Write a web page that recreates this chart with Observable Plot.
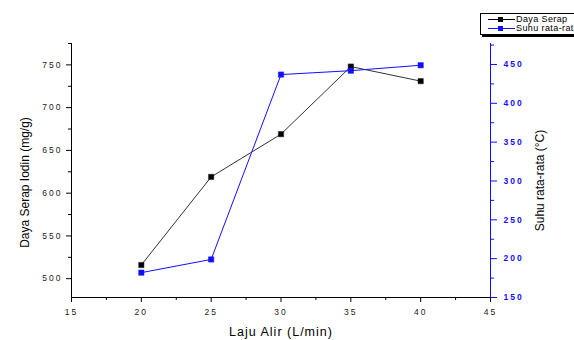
<!DOCTYPE html>
<html>
<head>
<meta charset="utf-8">
<script src="https://cdn.jsdelivr.net/npm/d3@7"></script>
<script src="https://cdn.jsdelivr.net/npm/@observablehq/plot@0.6"></script>
<style>
  html, body { margin: 0; padding: 0; background: #fff; overflow: hidden; width: 574px; height: 340px; }
  #wrap { position: relative; width: 574px; height: 340px; overflow: hidden; }
  g[aria-label$="tick label"] text { letter-spacing: 2px; }
  #legend {
    position: absolute; left: 480px; top: 13px; width: 110px; height: 20px;
    border: 1px solid #000; background: #fff; box-shadow: 2px 2px 0 #000;
    font-family: "Liberation Sans", Arial, sans-serif; font-size: 9px; line-height: 9px;
  }
  .row { position: absolute; left: 0; height: 9px; width: 110px; white-space: nowrap; }
  .ln { position: absolute; left: 7px; width: 27px; top: 4px; height: 1px; }
  .mk { position: absolute; left: 17px; top: 2px; width: 5px; height: 5px; }
  .tx { position: absolute; left: 35px; top: 0px; letter-spacing: 0.4px; }
</style>
</head>
<body>
<div id="wrap"></div>
<script>
// ---- data ----
const flowRate = [20, 25, 30, 35, 40];            // Laju Alir (L/min)
const iodine = [516, 619, 669, 748, 731];          // Daya Serap Iodin (mg/g)
const temperature = [182, 199, 437, 442, 449];     // Suhu rata-rata (°C)
const xTicks = [15, 20, 25, 30, 35, 40, 45];
const xMinor = [17.5, 22.5, 27.5, 32.5, 37.5, 42.5];
const leftTicks = [500, 550, 600, 650, 700, 750];
const leftMinor = [525, 575, 625, 675, 725, 775];
const rightTicks = [150, 200, 250, 300, 350, 400, 450];
const rightMinor = [175, 225, 275, 325, 375, 425, 475];
const legendLabels = ["Daya Serap", "Suhu rata-rata"];

const L0 = 478, L1 = 775, R0 = 150, R1 = 477;
const toLeft = v => L0 + (v - R0) * (L1 - L0) / (R1 - R0);
const fromLeft = v => R0 + (v - L0) * (R1 - R0) / (L1 - L0);

const black = flowRate.map((x, i) => ({x, y: iodine[i]}));
const blue = flowRate.map((x, i) => ({x, y: toLeft(temperature[i])}));

const BLUE = "#1010ff";

const chart = Plot.plot({
  width: 574, height: 340,
  marginLeft: 71, marginRight: 84, marginTop: 43, marginBottom: 43,
  x: {domain: [15, 45]},
  y: {domain: [L0, L1]},
  style: {fontFamily: "'Liberation Sans', Arial, sans-serif", fontSize: "8.5px", background: "white", overflow: "visible"},
  marks: [
    // axis lines
    Plot.ruleX([15], {stroke: "black", strokeWidth: 1}),
    Plot.ruleY([L0], {stroke: "black", strokeWidth: 1}),
    Plot.ruleX([45], {stroke: BLUE, strokeWidth: 1}),
    // left axis
    Plot.axisY({ticks: leftTicks, tickSize: 5, tickPadding: 4, label: null, fontSize: 8.5, fill: "#222"}),
    Plot.axisY({ticks: leftMinor, tickSize: 3, tickFormat: () => "", label: null}),
    // x axis
    Plot.axisX({ticks: xTicks, tickSize: 5, tickPadding: 6, label: null, fontSize: 8.5, fill: "#222"}),
    Plot.axisX({ticks: xMinor, tickSize: 3, tickFormat: () => "", label: null}),
    // right axis
    Plot.axisY({anchor: "right", ticks: rightTicks.map(toLeft), tickFormat: d => Math.round(fromLeft(d)),
      tickSize: 6, tickPadding: 7, label: null, color: BLUE, fontSize: 8.5, fontWeight: "bold"}),
    Plot.axisY({anchor: "right", ticks: rightMinor.map(toLeft), tickSize: 3, tickFormat: () => "", label: null, color: BLUE}),
    // axis titles
    Plot.text(["Daya Serap Iodin (mg/g)"], {frameAnchor: "left", textAnchor: "middle", lineAnchor: "middle", dx: -46, dy: 12, rotate: -90, fontSize: 12, fill: "black"}),
    Plot.text(["Suhu rata-rata (°C)"], {frameAnchor: "right", textAnchor: "middle", lineAnchor: "middle", dx: 50, dy: 10, rotate: -90, fontSize: 12, fill: "black"}),
    Plot.text(["Laju Alir (L/min)"], {frameAnchor: "bottom", textAnchor: "middle", lineAnchor: "middle", dx: 0, dy: 34, fontSize: 12.5, fill: "black"}),
    // series
    Plot.line(black, {x: "x", y: "y", stroke: "#333", strokeWidth: 1}),
    Plot.dot(black, {x: "x", y: "y", symbol: "square", r: 3, fill: "black", stroke: "#222", strokeWidth: 0.5}),
    Plot.line(blue, {x: "x", y: "y", stroke: BLUE, strokeWidth: 1}),
    Plot.dot(blue, {x: "x", y: "y", symbol: "square", r: 3, fill: BLUE, stroke: BLUE, strokeWidth: 0.5})
  ]
});
// letter-spacing on x title to mimic the stretched reference text
d3.select(chart).selectAll("text").filter(function () { return this.textContent === "Laju Alir (L/min)"; })
  .style("letter-spacing", "1px");
const wrap = document.getElementById("wrap");
wrap.appendChild(chart);

// legend
const legend = document.createElement("div");
legend.id = "legend";
const colors = ["#000", BLUE];
legendLabels.forEach((name, i) => {
  const row = document.createElement("div");
  row.className = "row";
  row.style.top = (1 + i * 9) + "px";
  row.innerHTML = `<div class="ln" style="background:${colors[i]}"></div><div class="mk" style="background:${colors[i]}"></div><span class="tx">${name}</span>`;
  legend.appendChild(row);
});
wrap.appendChild(legend);
</script>
</body>
</html>
